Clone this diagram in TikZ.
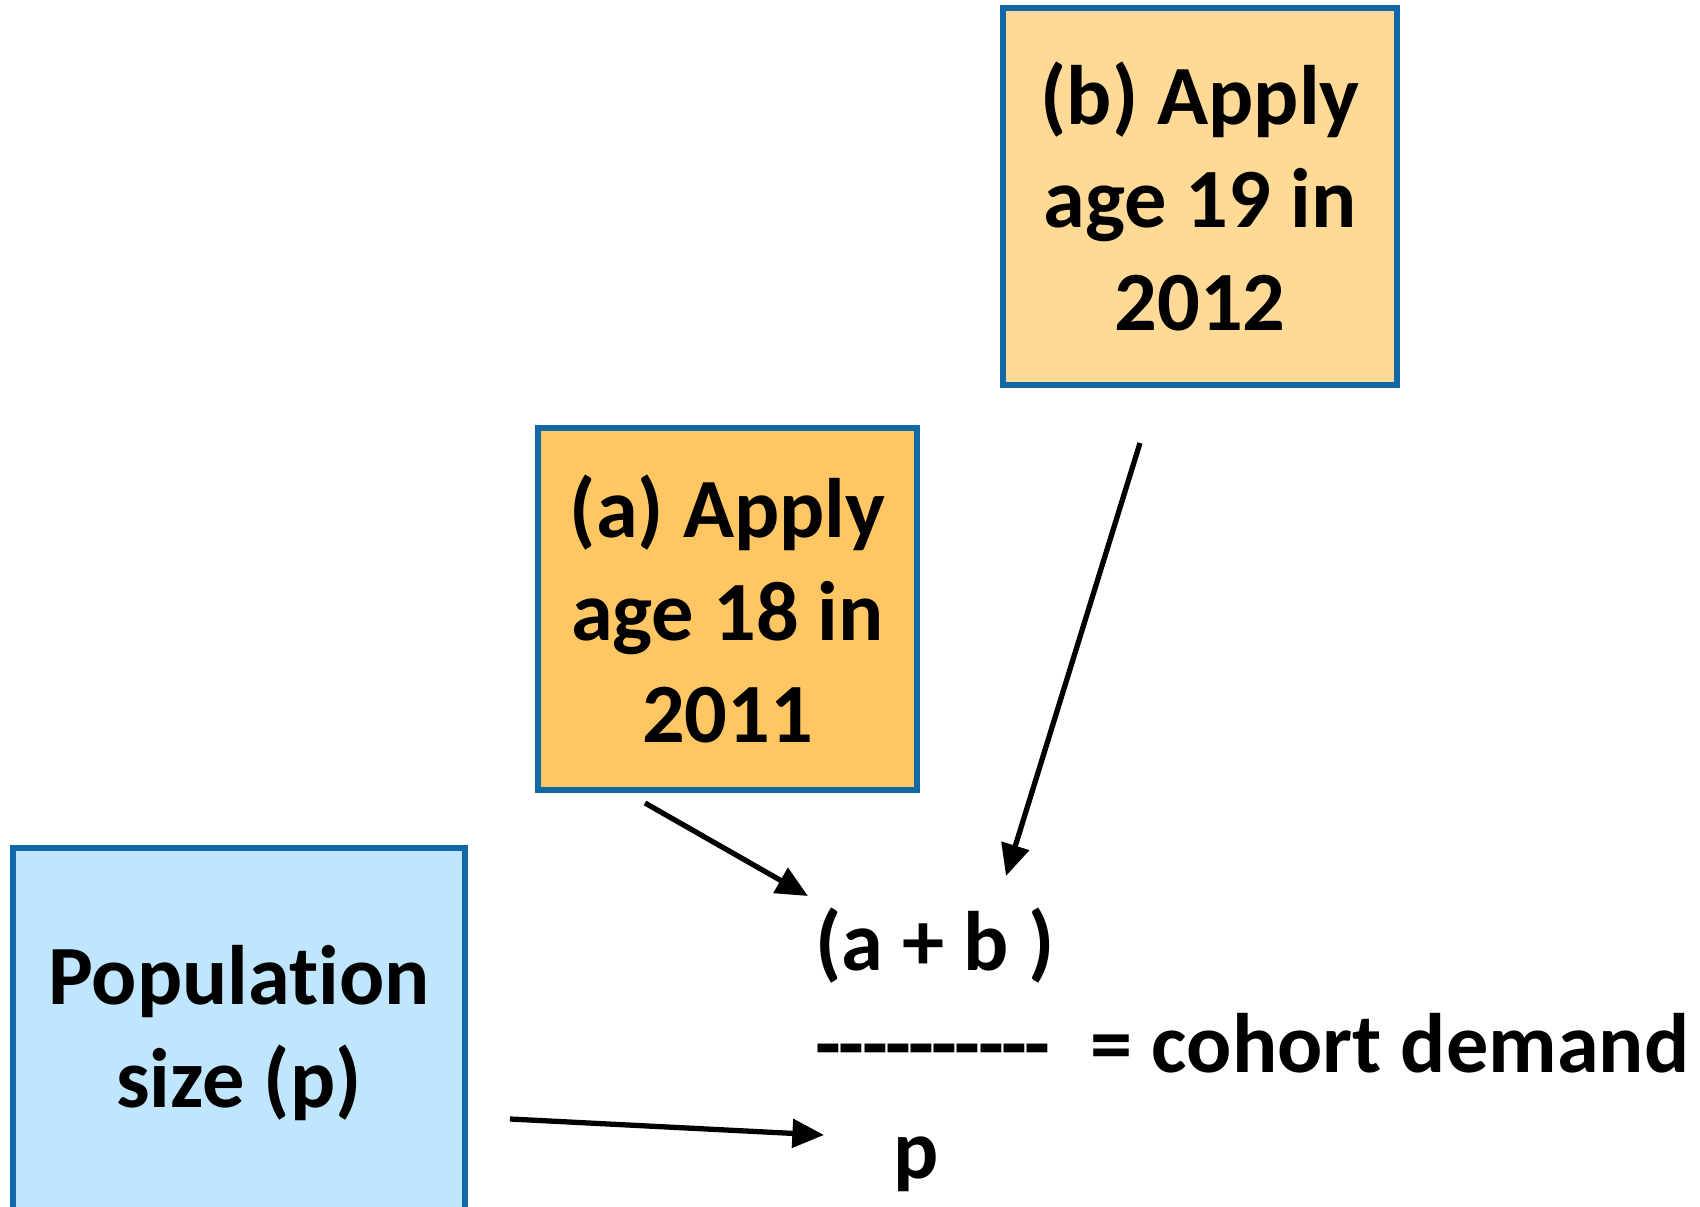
\documentclass[tikz,border=0pt]{standalone}
\usepackage{fontspec}
\setmainfont{Carlito}[Ligatures={NoCommon}]
\usetikzlibrary{positioning,arrows.meta}
\definecolor{boxline}{RGB}{16,104,166}
\definecolor{agebfill}{RGB}{255,217,150}
\definecolor{ageafill}{RGB}{255,198,100}
\definecolor{popfill}{RGB}{191,230,253}
\tikzstyle{agebox}=[
  draw=boxline,
  line width=1.5pt,
  inner sep=0pt,
  align=center,
  font=\fontsize{24}{29.2}\selectfont\bfseries
]
\tikzstyle{formula}=[
  inner sep=0pt,
  font=\fontsize{24}{29.2}\selectfont\bfseries
]
\tikzstyle{feed}=[>={Triangle[length=9pt,width=8pt]},->,line width=1.5pt,black]
\newcommand{\hy}{-\kern-0.75pt}

\begin{document}
\begin{tikzpicture}
    \useasboundingbox (0,0) rectangle (17,12.06);
    \node[agebox,fill=agebfill,minimum width=3.94cm,minimum height=3.77cm] (ageb) at (12.00,10.095) {(b) Apply\\age 19 in\\2012};
    \node[agebox,fill=ageafill,minimum width=3.79cm,minimum height=3.62cm] (agea) at (7.275,5.97) {(a) Apply\\age 18 in\\2011};
    \node[agebox,fill=popfill,minimum width=4.52cm,minimum height=3.70cm] (pop) at (2.39,1.73) {Population\\size (p)};
    \node[formula,anchor=base] (sum) at (9.35,2.36) {(a + b )};
    \node[formula,anchor=base west] (bar) at (8.15,1.34) {\hy\hy\hy\hy\hy\hy\hy\hy\hy-};
    \node[formula,anchor=base west] (demand) at (10.90,1.34) {= cohort demand};
    \node[formula,anchor=base] (denom) at (9.16,0.28) {p};
    \coordinate (atail) at (6.45,4.03);
    \coordinate (ahead) at (8.08,3.10);
    \coordinate (btail) at (11.40,7.63);
    \coordinate (bhead) at (10.06,3.30);
    \coordinate (ptail) at (5.10,0.87);
    \coordinate (phead) at (8.24,0.71);
    \draw[feed] (atail) -- (ahead);
    \draw[feed] (btail) -- (bhead);
    \draw[feed] (ptail) -- (phead);
  \end{tikzpicture}
\end{document}
